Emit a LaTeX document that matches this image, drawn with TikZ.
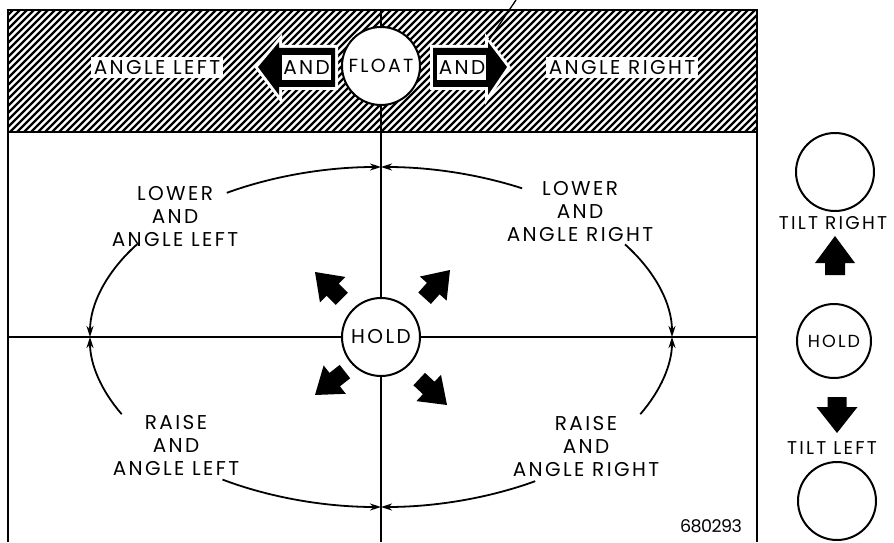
\documentclass[tikz,border=0pt]{standalone}
\usepackage{fontspec}
\setmainfont{Poppins}
\newfontfamily\lblfont{Poppins}[LetterSpace=12]
\newfontfamily\numfont{Poppins}[LetterSpace=-3]
\usetikzlibrary{arrows.meta}
\tikzset{
  lbl/.style={font=\lblfont\fontsize{20}{23}\selectfont, align=center, inner sep=0pt},
  tiltlbl/.style={font=\lblfont\fontsize{18.5}{22}\selectfont, align=center, inner sep=0pt},
  bandlbl/.style={lbl, fill=white, inner sep=3pt},
  ring/.style={circle, draw=black, line width=2pt, fill=white, minimum size=78pt, inner sep=0pt},
  axisline/.style={line width=1.5pt},
  ellarc/.style={line width=1.8pt, -{Stealth[length=11pt,width=7pt]}},
  halo/.style={draw=white, line width=6pt},
}
\newcommand\blkarrow[2]{%
  \begin{scope}[shift={#1},rotate=#2]
    \fill (0,0) -- (-25,18) -- (-25,8.5) -- (-38,8.5) -- (-38,-8.5) -- (-25,-8.5) -- (-25,-18) -- cycle;
  \end{scope}}
\begin{document}
\begin{tikzpicture}[x=1pt,y=1pt]
\useasboundingbox (0,0) rectangle (894,542);
% hatched band
\begin{scope}
  \clip (8,410) rectangle (757,532);
  \foreach \i in {-130,-123,...,760} \draw[line width=2.4pt] (\i,410) -- ++(122,122);
\end{scope}
% frame
\draw[line width=2pt] (8,0) -- (8,532) -- (757,532) -- (757,0);
\draw[line width=2pt] (8,410) -- (757,410);
% axes
\coordinate (C) at (381,205);
\draw[axisline] (381,0) -- (381,532);
\draw[axisline] (8,205) -- (757,205);
% ellipse arcs
\draw[ellarc] ([shift={(122:291pt and 170pt)}]C) arc[start angle=122, end angle=90, x radius=291pt, y radius=170pt];
\draw[ellarc] ([shift={(147:291pt and 170pt)}]C) arc[start angle=147, end angle=180, x radius=291pt, y radius=170pt];
\draw[ellarc] ([shift={(61:291pt and 170pt)}]C) arc[start angle=61, end angle=90, x radius=291pt, y radius=170pt];
\draw[ellarc] ([shift={(33:291pt and 170pt)}]C) arc[start angle=33, end angle=0, x radius=291pt, y radius=170pt];
\draw[ellarc] ([shift={(-27:291pt and 170pt)}]C) arc[start angle=-27, end angle=0, x radius=291pt, y radius=170pt];
\draw[ellarc] ([shift={(-58:291pt and 170pt)}]C) arc[start angle=-58, end angle=-90, x radius=291pt, y radius=170pt];
\draw[ellarc] ([shift={(207:291pt and 170pt)}]C) arc[start angle=207, end angle=180, x radius=291pt, y radius=170pt];
\draw[ellarc] ([shift={(237:291pt and 170pt)}]C) arc[start angle=237, end angle=270, x radius=291pt, y radius=170pt];
% circles
\node[ring, font=\lblfont\fontsize{20}{23}\selectfont] (hold) at (C) {HOLD};
\node[ring, font=\lblfont\fontsize{19}{23}\selectfont] (float) at (381,476) {FLOAT};
% band arrows
\path[halo] (258,475) -- (279,500) -- (279,494) -- (335,494) -- (335,455) -- (279,455) -- (279,447) -- cycle;
\fill (258,475) -- (279,500) -- (279,494) -- (335,494) -- (335,455) -- (279,455) -- (279,447) -- cycle;
\fill[white] (282,462) rectangle (331,487);
\node[lbl] (andl) at (306.5,474.5) {AND};
\path[halo] (507,475) -- (488,500) -- (488,494) -- (433,494) -- (433,455) -- (488,455) -- (488,447) -- cycle;
\fill (507,475) -- (488,500) -- (488,494) -- (433,494) -- (433,455) -- (488,455) -- (488,447) -- cycle;
\fill[white] (437,462) rectangle (486,487);
\node[lbl] (andr) at (462,474.5) {AND};
\coordinate (ldrA) at (489,502);
\coordinate (ldrB) at (516,542);
\draw[line width=1.3pt] (ldrA) -- (ldrB);
\node[bandlbl] (al) at (157,474.5) {ANGLE LEFT};
\node[bandlbl] (ar) at (622,474.5) {ANGLE RIGHT};
% quadrant labels
\node[lbl] (tl) at (175,325.5) {LOWER\\AND\\ANGLE LEFT};
\node[lbl] (trq) at (580,330) {LOWER\\AND\\ANGLE RIGHT};
\node[lbl] (bl) at (176,97) {RAISE\\AND\\ANGLE LEFT};
\node[lbl] (br) at (586,96) {RAISE\\AND\\ANGLE RIGHT};
% center block arrows
\blkarrow{(315,270)}{135}
\blkarrow{(450,272)}{48}
\blkarrow{(315,147)}{218}
\blkarrow{(447,137)}{-43}
% right column
\node[ring] (tiltr) at (835,370) {};
\node[tiltlbl] (trt) at (833,318.5) {TILT RIGHT};
\fill (835,306) -- (855,279) -- (845,279) -- (845,267) -- (825,267) -- (825,279) -- (815,279) -- cycle;
\node[ring, minimum size=74pt, font=\lblfont\fontsize{17.5}{20}\selectfont] (hold2) at (834,201) {HOLD};
\fill (837,109) -- (857.5,135) -- (846.5,135) -- (846.5,145) -- (827.5,145) -- (827.5,135) -- (816.5,135) -- cycle;
\node[tiltlbl] (tlt) at (832,94) {TILT LEFT};
\node[ring] (tiltl) at (837,41) {};
\node[inner sep=0pt, font=\numfont\fontsize{17.5}{20}\selectfont] (num) at (711,15.5) {680293};
\end{tikzpicture}
\end{document}
